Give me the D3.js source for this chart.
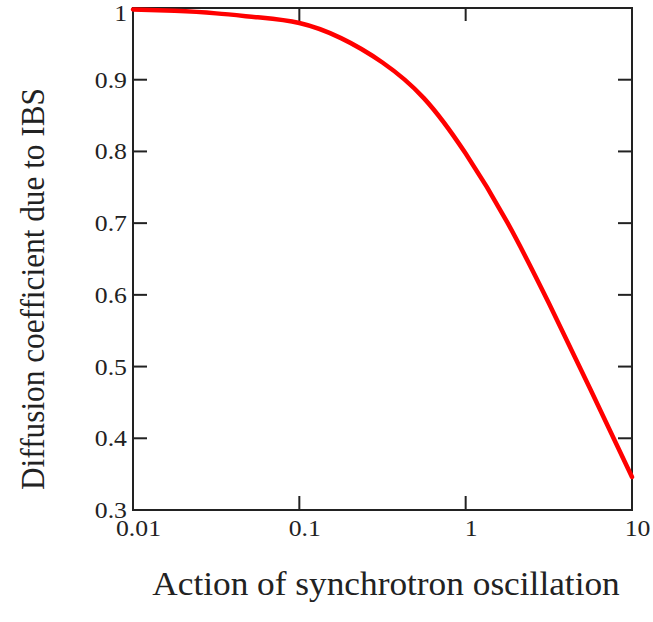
<!DOCTYPE html>
<html>
<head>
<meta charset="utf-8">
<script src="https://cdn.jsdelivr.net/npm/d3@7"></script>
<style>
  body { margin: 0; background: #fff; }
  svg text { font-family: "Liberation Serif", "Times New Roman", serif; fill: #222; }
  .frame { fill: none; stroke: #222; stroke-width: 2; }
  .tick-line { stroke: #222; stroke-width: 2; }
  .curve { fill: none; stroke: #f00; stroke-width: 4.5; stroke-linecap: round; }
</style>
</head>
<body>
<svg id="svg" width="653" height="622"></svg>
<script>
// action of synchrotron oscillation (log axis, read every quarter decade)
const actions = [0.01, 0.0178, 0.0316, 0.0562, 0.1, 0.178, 0.316, 0.562, 1, 1.78, 3.16, 5.62, 10];
// diffusion coefficient
const coefficients = [0.998, 0.996, 0.9925, 0.987, 0.979, 0.958, 0.924, 0.874, 0.797, 0.701, 0.5885, 0.4685, 0.346];

const xTicks = [0.01, 0.1, 1, 10];
const xTickLabels = ["0.01", "0.1", "1", "10"];
const yTicks = [0.3, 0.4, 0.5, 0.6, 0.7, 0.8, 0.9, 1];
const yTickLabels = ["0.3", "0.4", "0.5", "0.6", "0.7", "0.8", "0.9", "1"];

const xTitle = "Action of synchrotron oscillation";
const yTitle = "Diffusion coefficient due to IBS";

const svg = d3.select("svg#svg");

const plot = { left: 133, right: 632, top: 8, bottom: 510 };
const tickLen = 14;
// the source picture is a bit wider than tall, so text is stretched sideways
const stretch = 1.12;

const x = d3.scaleLog().domain([0.01, 10]).range([plot.left, plot.right]);
const y = d3.scaleLinear().domain([0.3, 1]).range([plot.bottom, plot.top]);

var translate = function(a, b) {
  return "translate(" + a + ", " + b + ")";
}

// inward ticks on all four sides
const g = svg.append("g");

g.selectAll("line.ytick-l")
  .data(yTicks.slice(1, -1))
  .enter()
  .append("line")
  .attr("class", "tick-line")
  .attr("x1", plot.left).attr("x2", plot.left + tickLen)
  .attr("y1", d => y(d)).attr("y2", d => y(d));

g.selectAll("line.ytick-r")
  .data(yTicks.slice(1, -1))
  .enter()
  .append("line")
  .attr("class", "tick-line")
  .attr("x1", plot.right).attr("x2", plot.right - tickLen)
  .attr("y1", d => y(d)).attr("y2", d => y(d));

g.selectAll("line.xtick-b")
  .data(xTicks.slice(1, -1))
  .enter()
  .append("line")
  .attr("class", "tick-line")
  .attr("x1", d => x(d)).attr("x2", d => x(d))
  .attr("y1", plot.bottom).attr("y2", plot.bottom - tickLen);

g.selectAll("line.xtick-t")
  .data(xTicks.slice(1, -1))
  .enter()
  .append("line")
  .attr("class", "tick-line")
  .attr("x1", d => x(d)).attr("x2", d => x(d))
  .attr("y1", plot.top).attr("y2", plot.top + 13);

g.append("rect")
  .attr("class", "frame")
  .attr("x", plot.left)
  .attr("y", plot.top)
  .attr("width", plot.right - plot.left)
  .attr("height", plot.bottom - plot.top);

// curve
const points = actions.map((a, i) => [a, coefficients[i]]);
const line = d3.line()
  .x(d => x(d[0]))
  .y(d => y(d[1]))
  .curve(d3.curveNatural);

svg.append("path")
  .datum(points)
  .attr("class", "curve")
  .attr("d", line);

// tick labels
svg.selectAll("text.ylabel")
  .data(yTicks)
  .enter()
  .append("text")
  .attr("class", "ylabel")
  .attr("transform", d => translate(127, Math.max(y(d) + 8, 21)) + " scale(" + stretch + ", 1)")
  .attr("text-anchor", "end")
  .attr("font-size", 23)
  .text((d, i) => yTickLabels[i]);

svg.selectAll("text.xlabel")
  .data(xTicks)
  .enter()
  .append("text")
  .attr("class", "xlabel")
  .attr("transform", d => translate(x(d) + 5.5, 536) + " scale(" + stretch + ", 1)")
  .attr("text-anchor", "middle")
  .attr("font-size", 23)
  .text((d, i) => xTickLabels[i]);

// axis titles
svg.append("text")
  .attr("transform", translate(386, 595) + " scale(1.07, 1)")
  .attr("text-anchor", "middle")
  .attr("font-size", 33)
  .text(xTitle);

svg.append("text")
  .attr("transform", translate(44, 289) + " scale(1.11, 1) rotate(-90)")
  .attr("text-anchor", "middle")
  .attr("font-size", 31.3)
  .text(yTitle);
</script>
</body>
</html>
